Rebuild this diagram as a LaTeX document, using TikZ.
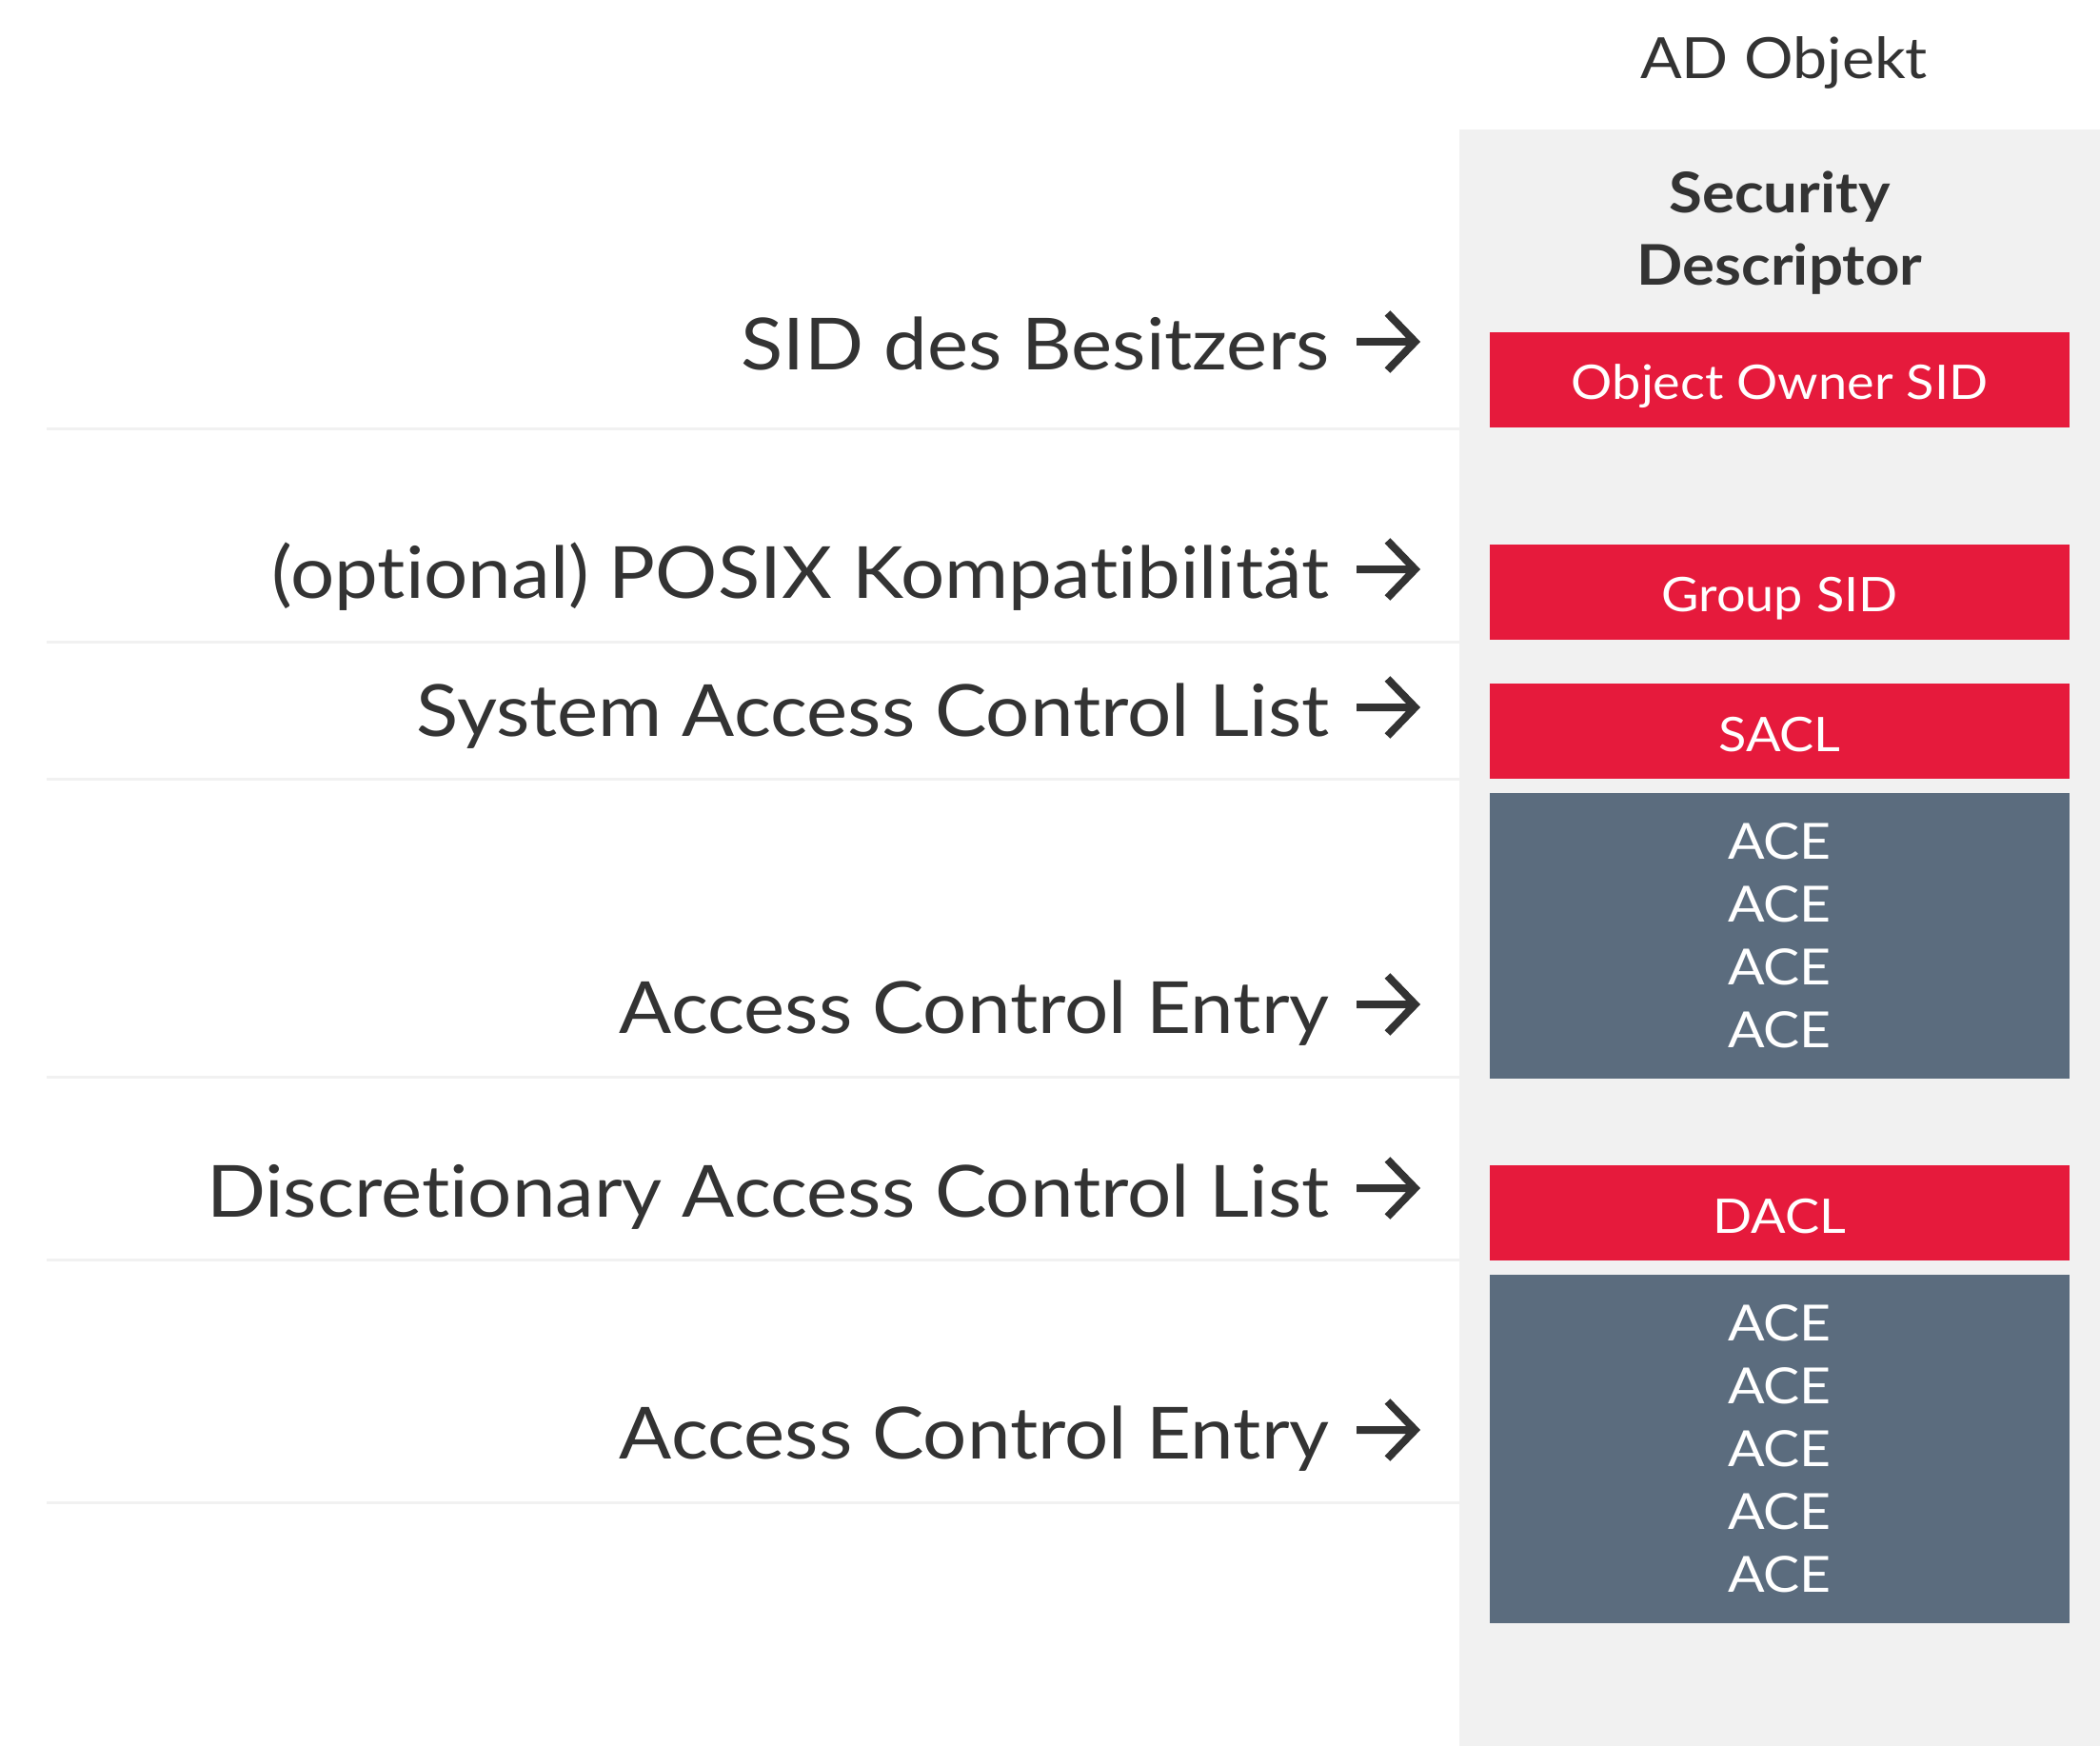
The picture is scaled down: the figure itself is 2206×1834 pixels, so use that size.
\documentclass[tikz,border=0pt]{standalone}
\usepackage{fontspec}
\setmainfont{Lato}[FakeStretch=1.08, Ligatures=NoCommon]
\newfontfamily\acefont{Lato}[FakeStretch=1.09, Ligatures=NoCommon]
\usepackage{tikz}
\usetikzlibrary{positioning}
\definecolor{adred}{HTML}{E61A3C}
\definecolor{adslate}{HTML}{5B6C7E}
\definecolor{adpanel}{HTML}{F1F1F1}
\definecolor{adtext}{HTML}{333333}
\tikzset{
    redbox/.style={rectangle, fill=adred, text=white, minimum width=12.18cm, minimum height=2cm, inner sep=0pt, text height=0.84cm, text depth=0pt, font=\fontsize{28.5}{37.5}\selectfont},
    acebox/.style={rectangle, fill=adslate, text=white, minimum width=12.18cm, inner sep=0pt, align=center, font=\fontsize{29.8}{37.45}\acefont},
    lbl/.style={anchor=base east, inner sep=0pt, text=adtext, font=\fontsize{43}{50}\selectfont},
    pointer/.style={draw=adtext, line width=0.16cm, miter limit=10},
    sep/.style={draw=adpanel, line width=0.06cm},
}

\begin{document}
\begin{tikzpicture}[x=0.02cm, y=-0.02cm]
        \useasboundingbox (0,0) rectangle (2206,1834);
        \fill[adpanel] (1533,136) rectangle (2206,1834);
        \node [text=adtext, anchor=base, font=\fontsize{34}{40}\selectfont] (obj) at (1874,83) {AD Objekt};
        \node [text=adtext, anchor=base, align=center, font=\fontsize{33.5}{43.8}\selectfont\bfseries] (sd) at (1869.5,300) {Security\\Descriptor};
        \node [redbox] (owner) at (1869.5,399) {Object Owner SID};
        \node [redbox] (group) at (1869.5,622) {Group SID};
        \node [redbox] (sacl) at (1869.5,768) {SACL};
        \node [acebox, minimum height=6cm] (sace) [below=0.28cm of sacl] {ACE\\ACE\\ACE\\ACE};
        \node [redbox] (dacl) at (1869.5,1274) {DACL};
        \node [acebox, minimum height=7.32cm] (dace) [below=0.28cm of dacl] {ACE\\ACE\\ACE\\ACE\\ACE};
        \node [lbl] (owntxt) at (1397,389) {SID des Besitzers};
        \node [lbl] (posix) at (1397,628) {(optional) POSIX Kompatibilität};
        \node [lbl] (sacltxt) at (1397,773) {System Access Control List};
        \node [lbl] (sacetxt) at (1397,1085) {Access Control Entry};
        \node [lbl] (dacltxt) at (1397,1278) {Discretionary Access Control List};
        \node [lbl] (dacetxt) at (1397,1532) {Access Control Entry};
        \coordinate (s1) at (1425,359); \coordinate (t1) at (1486.5,359);
        \coordinate (s2) at (1425,598); \coordinate (t2) at (1486.5,598);
        \coordinate (s3) at (1425,743); \coordinate (t3) at (1486.5,743);
        \coordinate (s4) at (1425,1055); \coordinate (t4) at (1486.5,1055);
        \coordinate (s5) at (1425,1248); \coordinate (t5) at (1486.5,1248);
        \coordinate (s6) at (1425,1502); \coordinate (t6) at (1486.5,1502);
        \draw[pointer] (s1) -- (t1) ++(-29,-30) -- (t1) -- ++(-29,30);
        \draw[pointer] (s2) -- (t2) ++(-29,-30) -- (t2) -- ++(-29,30);
        \draw[pointer] (s3) -- (t3) ++(-29,-30) -- (t3) -- ++(-29,30);
        \draw[pointer] (s4) -- (t4) ++(-29,-30) -- (t4) -- ++(-29,30);
        \draw[pointer] (s5) -- (t5) ++(-29,-30) -- (t5) -- ++(-29,30);
        \draw[pointer] (s6) -- (t6) ++(-29,-30) -- (t6) -- ++(-29,30);
        % row separators
        \draw[sep] (49,450.5) -- (1533,450.5);
        \draw[sep] (49,674) -- (1533,674);
        \draw[sep] (49,818) -- (1533,818);
        \draw[sep] (49,1131.5) -- (1533,1131.5);
        \draw[sep] (49,1323) -- (1533,1323);
        \draw[sep] (49,1578) -- (1533,1578);
    \end{tikzpicture}
\end{document}
